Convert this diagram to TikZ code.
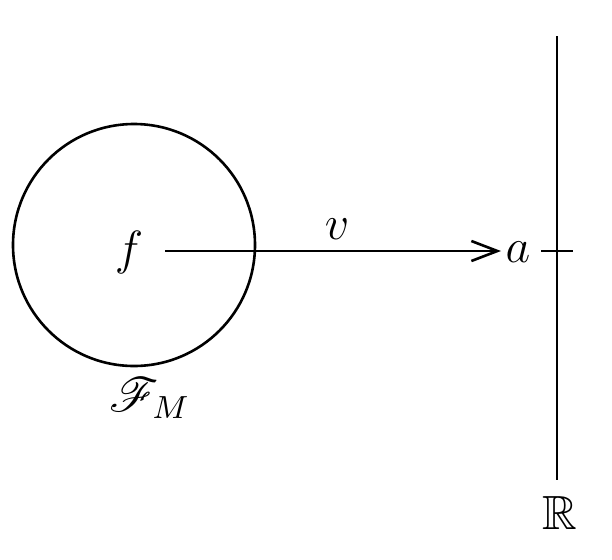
\documentclass[tikz,border=0pt]{standalone}
\usepackage{amsmath,amssymb,mathrsfs}
\usetikzlibrary{arrows.meta}
\begin{document}
\begin{tikzpicture}[x=0.25pt,y=-0.25pt,
  every node/.style={font=\fontsize{12}{14}\selectfont, inner sep=0pt},
  ln/.style={line width=0.65pt}]
\useasboundingbox (0,0) rectangle (612,559);
\draw[ln] (134,245) circle[radius=121];
\node (f) at (129,252) {$f$};
\node (FM) at (150,398) {$\mathscr{F}_M$};
\node (a) at (518,252) {$a$};
\node (v) at (337,229) {$v$};
\coordinate (s) at (165,251);
\coordinate (e) at (501,251);
\draw[ln,-{Straight Barb[length=6.5pt,width=5pt]}] (s) -- (e);
\coordinate (top) at (557,36);
\coordinate (bot) at (557,480);
\draw[ln] (top) -- (bot);
\coordinate (tl) at (541,251);
\coordinate (tr) at (573,251);
\draw[ln] (tl) -- (tr);
\node (R) at (560,513) {$\mathbb{R}$};
\end{tikzpicture}
\end{document}
